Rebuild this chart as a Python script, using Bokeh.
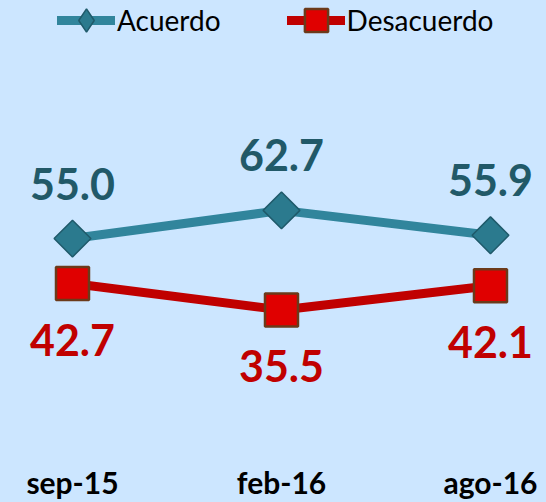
from bokeh.plotting import figure
from bokeh.models import (ColumnDataSource, Range1d, LabelSet, Legend, LegendItem,
                          FixedTicker)
from bokeh.core.properties import value
from bokeh.embed import file_html
from bokeh.resources import INLINE
import math

categories = ["sep-15", "feb-16", "ago-16"]
acuerdo = [55.0, 62.7, 55.9]
desacuerdo = [42.7, 35.5, 42.1]

BG = "#CCE6FF"
TEAL = "#31859C"
TEAL_DARK = "#215968"
RED = "#C00000"

xs = list(range(len(categories)))
src_a = ColumnDataSource(dict(x=xs, y=acuerdo, label=[f"{v:.1f}" for v in acuerdo]))
src_d = ColumnDataSource(dict(x=xs, y=desacuerdo, label=[f"{v:.1f}" for v in desacuerdo]))

p = figure(width=546, height=502, output_backend="svg", toolbar_location=None,
           x_range=Range1d(-0.3445, 2.268), y_range=Range1d(-2.66, 120.08),
           min_border=0, outline_line_color=None)
p.background_fill_color = BG
p.border_fill_color = BG
p.grid.visible = False
p.yaxis.visible = False

p.xaxis.ticker = FixedTicker(ticks=xs)
p.xaxis.major_label_overrides = {i: c for i, c in enumerate(categories)}
p.xaxis.axis_line_color = None
p.xaxis.major_tick_line_color = None
p.xaxis.minor_tick_line_color = None
p.xaxis.major_tick_out = 0
p.xaxis.minor_tick_out = 0
p.xaxis.major_label_standoff = 14
p.xaxis.major_label_text_font = "Lato"
p.xaxis.major_label_text_font_style = "bold"
p.xaxis.major_label_text_font_size = "30px"
p.xaxis.major_label_text_color = "black"

la = p.line("x", "y", source=src_a, line_color=TEAL, line_width=9, line_cap="round")
# diamond key glyph for the legend (sits hidden under the rotated-square markers)
key_a = p.scatter("x", "y", source=src_a, marker="diamond", size=22,
                  fill_color="#2B7A8E", line_color="#1F5A6A", line_width=1.5)
sa = p.scatter("x", "y", source=src_a, marker="square", angle=math.pi / 4, size=26,
               fill_color="#2B7A8E", line_color="#1F5A6A", line_width=1.5)
ld = p.line("x", "y", source=src_d, line_color=RED, line_width=9, line_cap="round")
sd = p.scatter("x", "y", source=src_d, marker="square", size=33,
               fill_color="#E00000", line_color="#6B3A1A", line_width=2.5)

lab_a = LabelSet(x="x", y="y", text="label", source=src_a, y_offset=55,
                 text_align="center", text_baseline="middle",
                 text_font=value("Lato"), text_font_style="bold", text_font_size="43px",
                 text_color=TEAL_DARK)
lab_d = LabelSet(x="x", y="y", text="label", source=src_d, y_offset=-56,
                 text_align="center", text_baseline="middle",
                 text_font=value("Lato"), text_font_style="bold", text_font_size="43px",
                 text_color=RED)
p.add_layout(lab_a)
p.add_layout(lab_d)

legend = Legend(items=[LegendItem(label="Acuerdo", renderers=[la, key_a]),
                       LegendItem(label="Desacuerdo", renderers=[ld, sd])],
                location=(57, 400), orientation="horizontal",
                margin=0, padding=0, spacing=66, label_standoff=2,
                glyph_width=58, glyph_height=58,
                label_text_font="Lato", label_text_font_size="28px",
                label_text_color="black",
                background_fill_alpha=0, border_line_alpha=0)
p.add_layout(legend)

html = file_html(p, INLINE)
html = html.replace("</head>", "<style>body{background:%s;}</style></head>" % BG)
open("out.html", "w").write(html)
